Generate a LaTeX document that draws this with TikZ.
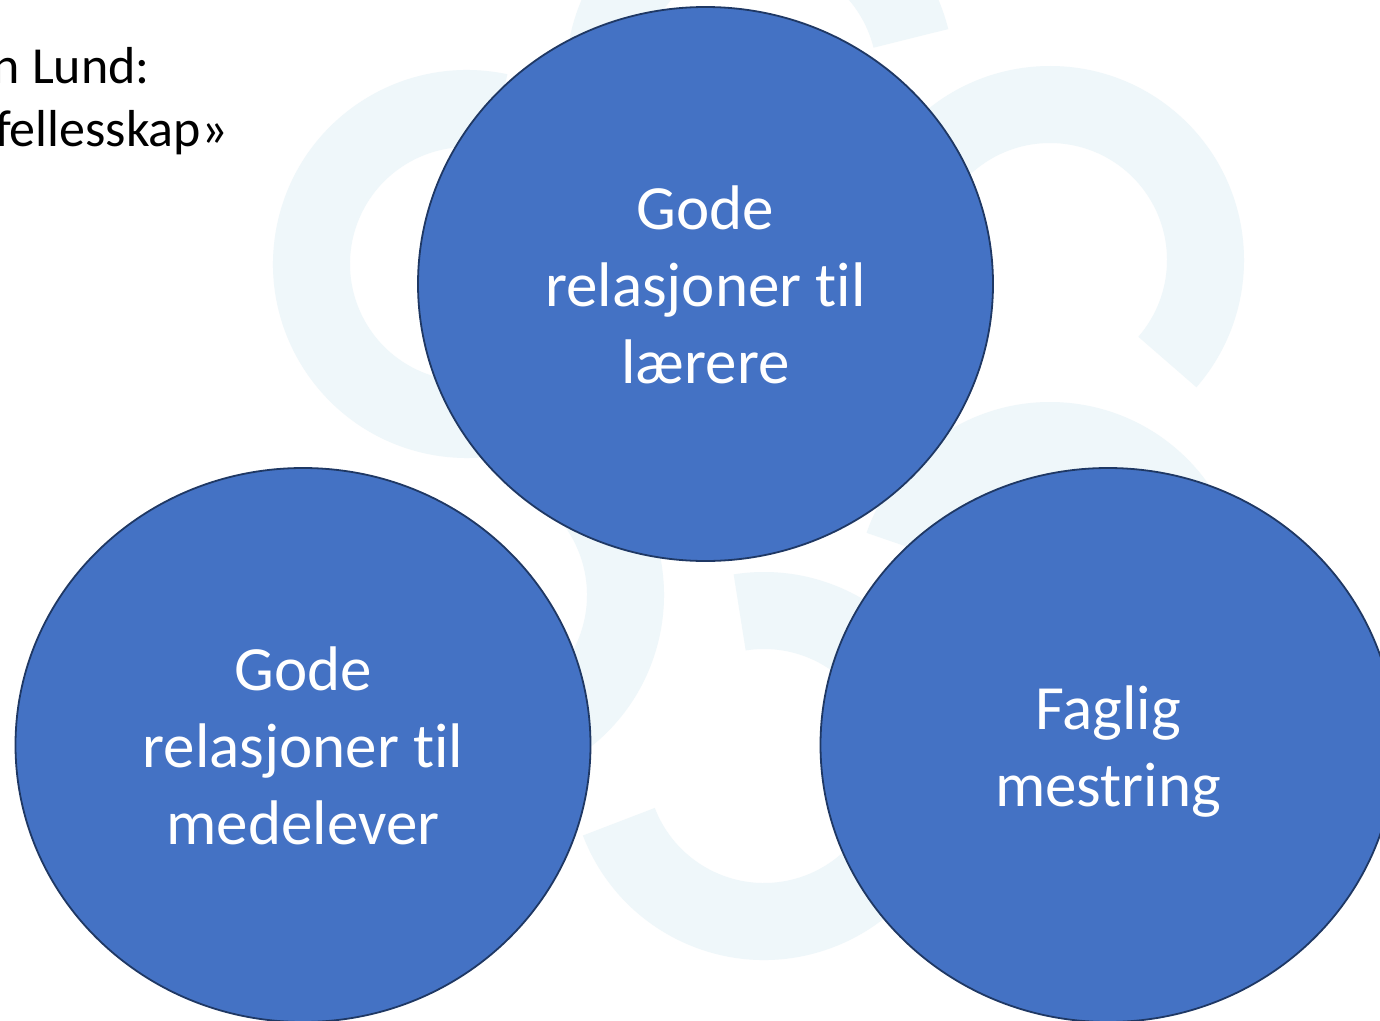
\documentclass[tikz,border=0pt]{standalone}
\usepackage{fontspec}
\setmainfont{Carlito}[Ligatures={NoCommon}]
\usetikzlibrary{shapes.geometric,calc}
\definecolor{ringc}{RGB}{239,247,250}
\definecolor{bubfill}{HTML}{4472C4}
\definecolor{bubline}{HTML}{1F3864}
% annular sector: centre x, centre y, start angle, end angle (angles in the y-down system)
\newcommand\ringseg[4]{%
  \fill[ringc] ($(#1,#2)+(#3:194)$) arc[start angle=#3, end angle=#4, radius=194]
    -- ($(#1,#2)+(#4:117)$) arc[start angle=#4, end angle=#3, radius=117] -- cycle;}
\tikzset{
  bub/.style={ellipse, fill=bubfill, draw=bubline, line width=1.8pt,
    minimum width=575pt, minimum height=554pt, inner sep=0pt},
  lbl/.style={anchor=base, text=white, inner sep=0pt, font=\fontsize{63}{77}\selectfont},
  ttl/.style={anchor=base east, text=black, inner sep=0pt, font=\fontsize{52}{63}\selectfont}
}
\begin{document}
\begin{tikzpicture}[x=1pt,y=-1pt]
\useasboundingbox (0,0) rectangle (1380,1020);
\fill[white] (0,0) rectangle (1380,1020);
% faint background rings
\ringseg{467}{264}{-78}{-336}
\ringseg{764}{766}{-201}{-459}
\ringseg{1050}{260}{41}{-217}
\ringseg{760}{76}{-14}{-272}
\ringseg{470}{595}{193}{-65}
\ringseg{1050}{596}{97}{-161}
% title fragment (cut by the left edge, as in the reference)
\node[ttl] (t1) at (150,83) {n Lund:};
\node[ttl] (t2) at (228,146) {fellesskap»};
% bubbles
\node[bub] (top) at (705.5,284) {};
\node[bub] (left) at (303,745) {};
\node[bub] (right) at (1108,745) {};
% labels
\node[lbl] (a1) at ($(top)+(0,-55)$) {Gode};
\node[lbl] (a2) at ($(top)+(0,22)$) {relasjoner til};
\node[lbl] (a3) at ($(top)+(0,99)$) {lærere};
\node[lbl] (b1) at ($(left)+(0,-55)$) {Gode};
\node[lbl] (b2) at ($(left)+(0,22)$) {relasjoner til};
\node[lbl] (b3) at ($(left)+(0,99)$) {medelever};
\node[lbl] (c1) at ($(right)+(0,-16)$) {Faglig};
\node[lbl] (c2) at ($(right)+(0,61)$) {mestring};
\end{tikzpicture}
\end{document}
